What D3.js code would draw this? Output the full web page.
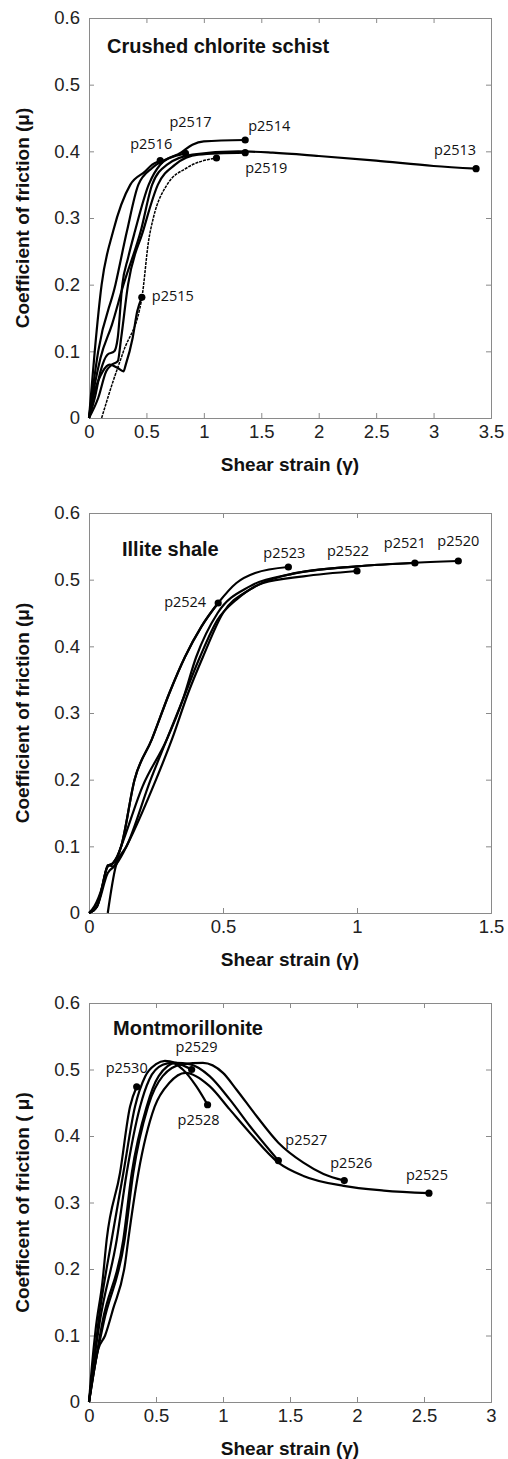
<!DOCTYPE html>
<html>
<head>
<meta charset="utf-8">
<script src="https://cdn.jsdelivr.net/npm/d3@7"></script>
<style>
  body { margin: 0; background: #fff; }
  svg { display: block; }
</style>
</head>
<body>
<svg id="chart" width="508" height="1459"></svg>
<script>
// --- Crushed chlorite schist: [shear strain, friction] ---
const p2513 = [[0,0],[0.05,0.05],[0.1,0.09],[0.2,0.14],[0.3,0.2],[0.45,0.28],[0.55,0.35],[0.68,0.38],[0.9,0.395],[1.3,0.4],[1.6,0.398],[2.0,0.393],[2.5,0.386],[3.0,0.378],[3.37,0.374]];
const p2514 = [[0,0],[0.05,0.03],[0.1,0.07],[0.16,0.095],[0.22,0.1],[0.25,0.12],[0.29,0.2],[0.34,0.24],[0.4,0.28],[0.52,0.35],[0.62,0.38],[0.8,0.398],[0.9,0.41],[1.0,0.415],[1.36,0.417]];
const p2515 = [[0,0],[0.05,0.04],[0.12,0.07],[0.18,0.08],[0.25,0.075],[0.3,0.07],[0.32,0.08],[0.38,0.12],[0.42,0.16],[0.46,0.181]];
const p2516 = [[0,0],[0.02,0.04],[0.05,0.1],[0.11,0.2],[0.21,0.28],[0.36,0.35],[0.49,0.37],[0.55,0.38],[0.62,0.386]];
const p2517 = [[0,0],[0.03,0.04],[0.08,0.1],[0.23,0.2],[0.33,0.28],[0.43,0.35],[0.55,0.375],[0.7,0.39],[0.84,0.397]];
const p2518 = [[0.11,0],[0.2,0.05],[0.3,0.1],[0.46,0.18],[0.52,0.267],[0.56,0.3],[0.68,0.35],[0.85,0.375],[1.11,0.39]];
const p2519 = [[0,0],[0.08,0.03],[0.15,0.07],[0.2,0.08],[0.25,0.085],[0.28,0.12],[0.34,0.2],[0.47,0.28],[0.6,0.35],[0.75,0.38],[0.95,0.395],[1.36,0.398]];

// --- Illite shale ---
const p2520 = [[0.07,0],[0.1,0.07],[0.14,0.1],[0.25,0.2],[0.309,0.26],[0.37,0.33],[0.425,0.384],[0.5,0.45],[0.6,0.485],[0.75,0.508],[1.0,0.52],[1.2,0.525],[1.378,0.528]];
const p2521 = [[0,0],[0.02,0.01],[0.05,0.04],[0.07,0.072],[0.09,0.07],[0.12,0.1],[0.2,0.19],[0.29,0.26],[0.35,0.32],[0.4,0.384],[0.48,0.45],[0.6,0.49],[0.75,0.508],[1.0,0.52],[1.216,0.525]];
const p2522 = [[0,0],[0.03,0.01],[0.07,0.06],[0.1,0.072],[0.14,0.1],[0.23,0.2],[0.29,0.26],[0.35,0.32],[0.414,0.384],[0.48,0.44],[0.55,0.47],[0.65,0.495],[0.8,0.505],[1.0,0.513]];
const p2523 = [[0,0],[0.03,0.01],[0.07,0.07],[0.09,0.075],[0.12,0.1],[0.17,0.2],[0.234,0.26],[0.3,0.33],[0.358,0.384],[0.42,0.43],[0.482,0.465],[0.55,0.495],[0.62,0.51],[0.744,0.519]];
const p2524 = [[0,0],[0.03,0.01],[0.07,0.07],[0.09,0.075],[0.12,0.1],[0.17,0.2],[0.234,0.26],[0.3,0.33],[0.358,0.384],[0.42,0.43],[0.482,0.465]];

// --- Montmorillonite ---
const p2525 = [[0,0],[0.03,0.04],[0.07,0.08],[0.12,0.1],[0.18,0.14],[0.27,0.209],[0.293,0.244],[0.368,0.344],[0.49,0.444],[0.6,0.48],[0.72,0.495],[0.9,0.475],[1.05,0.44],[1.2,0.405],[1.413,0.36],[1.6,0.34],[1.9,0.325],[2.2,0.318],[2.537,0.314]];
const p2526 = [[0,0],[0.04,0.05],[0.11,0.12],[0.266,0.244],[0.33,0.344],[0.44,0.444],[0.55,0.49],[0.7,0.508],[0.85,0.51],[1.0,0.495],[1.1,0.47],[1.25,0.43],[1.413,0.39],[1.6,0.36],[1.75,0.343],[1.905,0.333]];
const p2527 = [[0,0],[0.04,0.05],[0.1,0.12],[0.256,0.244],[0.319,0.344],[0.43,0.444],[0.52,0.49],[0.65,0.51],[0.75,0.508],[0.9,0.49],[1.05,0.455],[1.2,0.415],[1.413,0.363]];
const p2528 = [[0,0],[0.03,0.05],[0.08,0.12],[0.207,0.244],[0.281,0.344],[0.381,0.444],[0.45,0.485],[0.55,0.507],[0.62,0.51],[0.7,0.5],[0.8,0.475],[0.885,0.447]];
const p2529 = [[0,0],[0.03,0.05],[0.07,0.12],[0.169,0.244],[0.256,0.344],[0.343,0.444],[0.42,0.49],[0.5,0.508],[0.567,0.513],[0.65,0.51],[0.766,0.5]];
const p2530 = [[0,0],[0.02,0.05],[0.05,0.11],[0.1,0.18],[0.132,0.244],[0.231,0.344],[0.306,0.444],[0.356,0.474]];

// tick values
const yTicks = [0, 0.1, 0.2, 0.3, 0.4, 0.5, 0.6];
const xTicksChlorite = [0, 0.5, 1, 1.5, 2, 2.5, 3, 3.5];
const xTicksIllite = [0, 0.5, 1, 1.5];
const xTicksMont = [0, 0.5, 1, 1.5, 2, 2.5, 3];

// runs per panel (the unlabelled one gets null)
const chloriteRuns = [["p2513", p2513], ["p2514", p2514], ["p2515", p2515], ["p2516", p2516], ["p2517", p2517], [null, p2518], ["p2519", p2519]];
const illiteRuns = [["p2520", p2520], ["p2521", p2521], ["p2522", p2522], ["p2523", p2523], ["p2524", p2524]];
const montRuns = [["p2525", p2525], ["p2526", p2526], ["p2527", p2527], ["p2528", p2528], ["p2529", p2529], ["p2530", p2530]];

// label placement relative to end dot: [dx, dy, anchor]
const labelPos = {
  p2513: [0, -14, "end"], p2514: [3, -9, "start"], p2515: [10, 4, "start"],
  p2516: [12, -12, "end"], p2517: [5, -26, "middle"], p2519: [0, 20, "start"],
  p2520: [0, -15, "middle"], p2521: [-10, -15, "middle"], p2522: [-9, -15, "middle"],
  p2523: [-4, -9, "middle"], p2524: [-12, 4, "end"],
  p2525: [-2, -13, "middle"], p2526: [7, -13, "middle"], p2527: [28, -16, "middle"],
  p2528: [-9, 20, "middle"], p2529: [5, -18, "middle"], p2530: [-10, -14, "middle"]
};

const panels = [
  { title: "Crushed chlorite schist", titleX: 107, titleY: 53, top: 18, bottom: 418, xMax: 3.5, xTicks: xTicksChlorite, runs: chloriteRuns, ylab: "Coefficient of friction (\u03bc)" },
  { title: "Illite shale", titleX: 122, titleY: 556, top: 513, bottom: 913, xMax: 1.5, xTicks: xTicksIllite, runs: illiteRuns, ylab: "Coefficient of friction (\u03bc)" },
  { title: "Montmorillonite", titleX: 113, titleY: 1035, top: 1003, bottom: 1402, xMax: 3, xTicks: xTicksMont, runs: montRuns, ylab: "Coefficent of friction ( \u03bc)" }
];

const svg = d3.select("#chart");
const left = 89, right = 491;
const sans = "'Liberation Sans', Arial, Helvetica, sans-serif";
const frameColor = "#8a8a8a";

panels.forEach((p) => {
  const x = d3.scaleLinear().domain([0, p.xMax]).range([left, right]);
  const y = d3.scaleLinear().domain([0, 0.6]).range([p.bottom, p.top]);
  const g = svg.append("g");

  const fmt = (d) => String(d);

  // ticks point inwards on all four sides, labels only bottom/left
  g.append("g")
    .attr("transform", `translate(0,${p.bottom})`)
    .call(d3.axisBottom(x).tickValues(p.xTicks).tickSize(-5).tickPadding(7).tickFormat(fmt));
  g.append("g")
    .attr("transform", `translate(0,${p.top})`)
    .call(d3.axisTop(x).tickValues(p.xTicks).tickSize(-5).tickFormat(""));
  g.append("g")
    .attr("transform", `translate(${left},0)`)
    .call(d3.axisLeft(y).tickValues(yTicks).tickSize(-5).tickPadding(9).tickFormat(fmt));
  g.append("g")
    .attr("transform", `translate(${right},0)`)
    .call(d3.axisRight(y).tickValues(yTicks).tickSize(-5).tickFormat(""));

  g.selectAll(".domain").attr("stroke", frameColor).attr("stroke-width", 1);
  g.selectAll(".tick line").attr("stroke", frameColor);
  g.selectAll(".tick text")
    .attr("fill", "#222")
    .style("font-family", sans)
    .style("font-size", "18.5px");

  g.append("text")
    .attr("x", p.titleX)
    .attr("y", p.titleY)
    .style("font-family", sans)
    .style("font-weight", "bold")
    .style("font-size", "20px")
    .attr("fill", "#111")
    .text(p.title);

  g.append("text")
    .attr("x", (left + right) / 2)
    .attr("y", p.bottom + 53)
    .attr("text-anchor", "middle")
    .style("font-family", sans)
    .style("font-weight", "bold")
    .style("font-size", "19px")
    .attr("fill", "#111")
    .text("Shear strain (\u03b3)");

  g.append("text")
    .attr("transform", `translate(29,${(p.top + p.bottom) / 2}) rotate(-90)`)
    .attr("text-anchor", "middle")
    .style("font-family", sans)
    .style("font-weight", "bold")
    .style("font-size", "19px")
    .attr("fill", "#111")
    .text(p.ylab);

  const line = d3.line()
    .x((d) => x(d[0]))
    .y((d) => y(d[1]))
    .curve(d3.curveMonotoneX);

  p.runs.forEach(([name, pts]) => {
    g.append("path")
      .datum(pts)
      .attr("fill", "none")
      .attr("stroke", "#000")
      .attr("stroke-width", name ? 2.2 : 1.5)
      .attr("stroke-dasharray", name ? null : "3,1")
      .attr("d", line);

    const end = pts[pts.length - 1];
    g.append("circle")
      .attr("cx", x(end[0]))
      .attr("cy", y(end[1]))
      .attr("r", 3.6)
      .attr("fill", "#000");

    if (name) {
      const [dx, dy, anchor] = labelPos[name];
      g.append("text")
        .attr("x", x(end[0]) + dx)
        .attr("y", y(end[1]) + dy)
        .attr("text-anchor", anchor)
        .style("font-family", "'Open Sans', sans-serif")
        .style("font-size", "14.5px")
        .attr("fill", "#111")
        .text(name);
    }
  });
});
</script>
</body>
</html>
